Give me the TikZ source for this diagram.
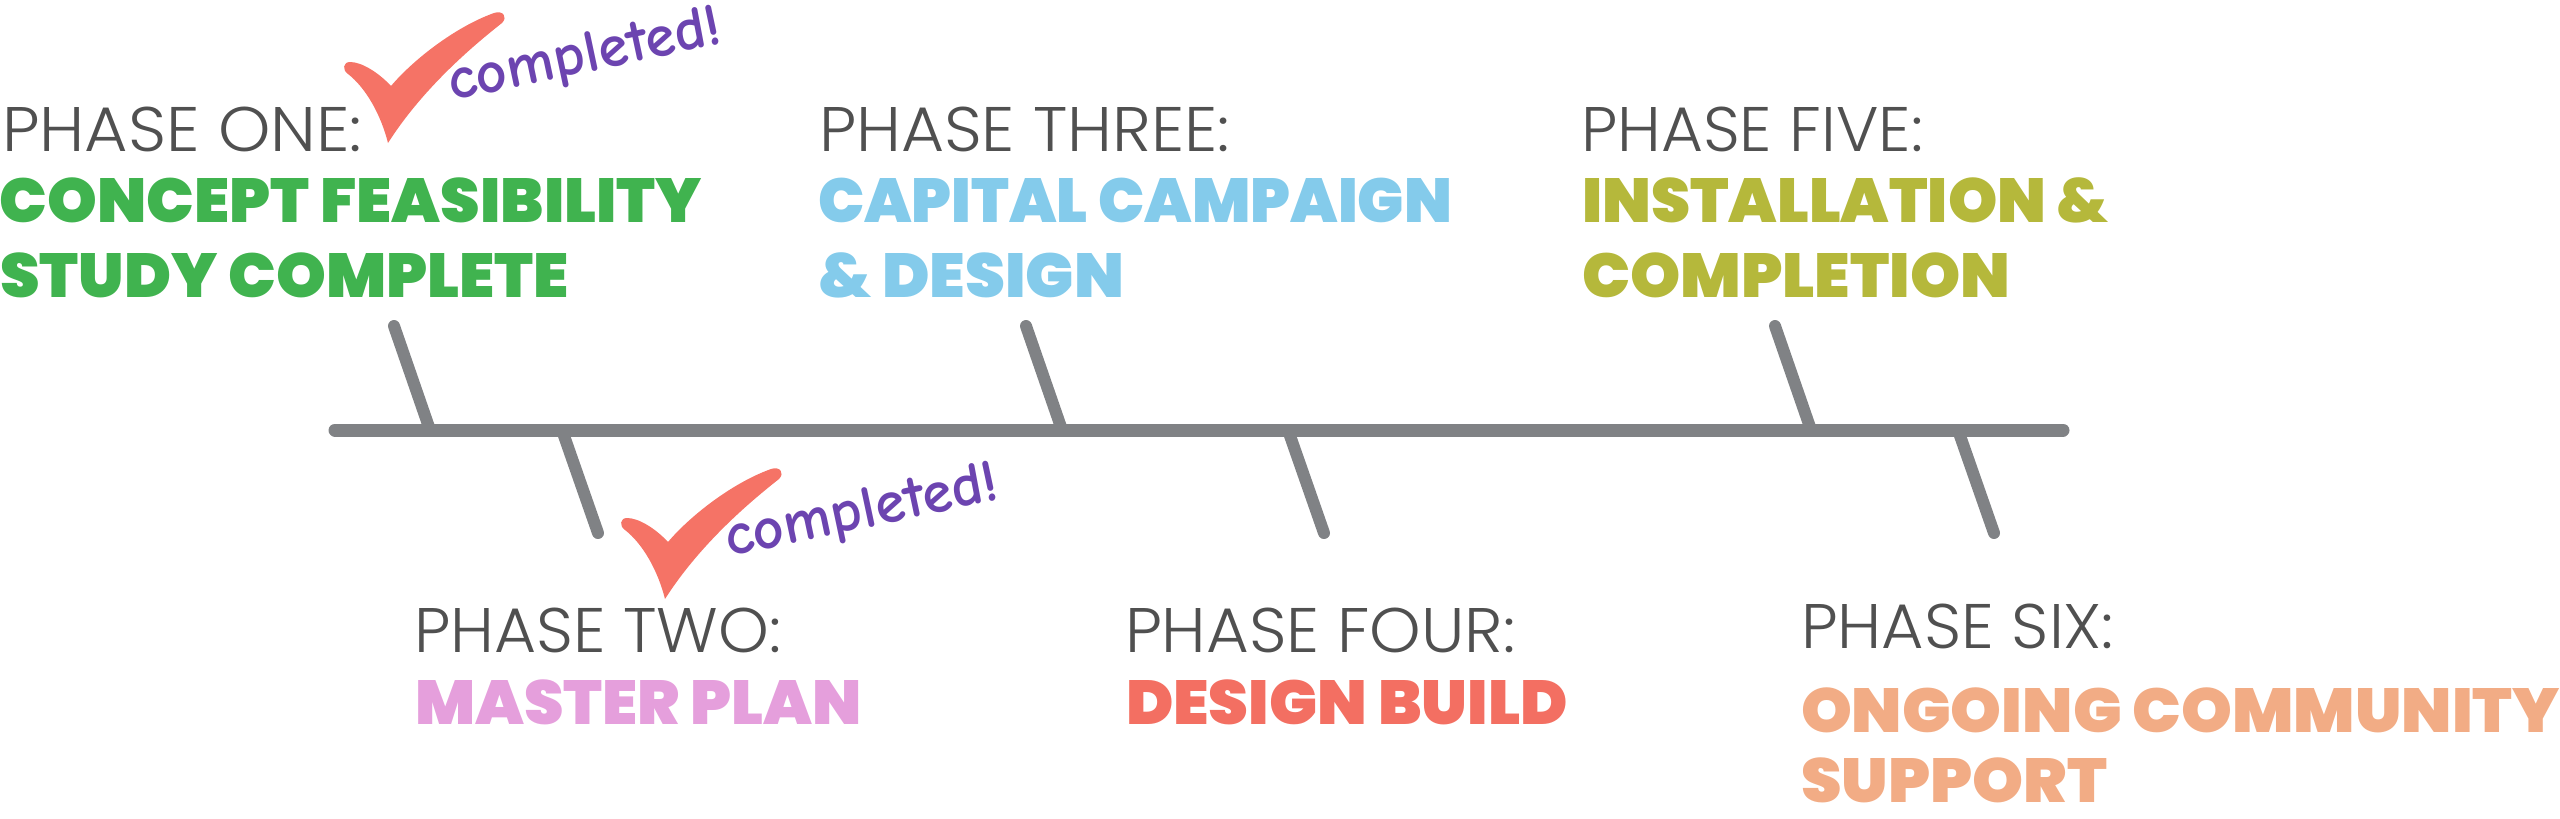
\documentclass[tikz,border=0pt]{standalone}
\usepackage{fontspec}
\usepackage{graphicx}
\newfontfamily\lightfam{Poppins Light}
\newfontfamily\boldfam{Poppins Black}
\IfFontExistsTF{Comic Neue Bold}
  {\newfontfamily\handfam{Comic Neue Bold}}
  {\IfFontExistsTF{Nunito-Black.otf}
    {\newfontfamily\handfam{Nunito-Black.otf}}
    {\IfFontExistsTF{Nunito-ExtraBold.otf}
      {\newfontfamily\handfam{Nunito-ExtraBold.otf}[FakeBold=1.5]}
      {\IfFontExistsTF{Comfortaa-Bold.ttf}
        {\newfontfamily\handfam{Comfortaa-Bold.ttf}[FakeBold=2]}
        {\newfontfamily\handfam{Poppins SemiBold}}}}}
\definecolor{phgray}{HTML}{505050}
\definecolor{linegray}{HTML}{808285}
\definecolor{cgreen}{HTML}{40B34F}
\definecolor{cblue}{HTML}{84CBEB}
\definecolor{colive}{HTML}{B5B83B}
\definecolor{cpink}{HTML}{E59FDC}
\definecolor{ccoral}{HTML}{F36F62}
\definecolor{cpeach}{HTML}{F2AC85}
\definecolor{checkred}{HTML}{F57366}
\definecolor{donepurple}{HTML}{6C44B0}
\newlength\tw
\newcommand\LT{\fontsize{60}{60}\selectfont\lightfam}
\newcommand\BT{\fontsize{60}{60}\selectfont\boldfam}
\newcommand\fitL[2]{\settowidth\tw{\LT #2}\pgfmathsetmacro\myfx{#1/\tw}\scalebox{\myfx}[\lsy]{\LT #2}}
\newcommand\natL[1]{\scalebox{\lsx}[\lsy]{\LT #1}}
\newcommand\fitB[2]{\settowidth\tw{\BT #2}\pgfmathsetmacro\myfx{#1/\tw}\scalebox{\myfx}[\bsy]{\BT #2}}
\newcommand\natB[1]{\scalebox{\bsx}[\bsy]{\BT #1}}
\AtBeginDocument{%
\settoheight\tw{\LT H}\pgfmathsetmacro\lsy{44/\tw}%
\settoheight\tw{\BT H}\pgfmathsetmacro\bsy{44/\tw}%
\settowidth\tw{\LT PHASE ONE:PHASE THREE:PHASE TWO:PHASE SIX:}\pgfmathsetmacro\lsx{1451/\tw}%
\settowidth\tw{\BT CONCEPT FEASIBILITYSTUDY COMPLETE\&{} DESIGNMASTER PLANONGOING COMMUNITYSUPPORT}\pgfmathsetmacro\bsx{3089/\tw}%
}
\begin{document}
\begin{tikzpicture}[x=1pt,y=-1pt,
  lbl/.style={anchor=base west, inner sep=0pt, outer sep=0pt},
  ph/.style={lbl, text=phgray},
  bar/.style={draw=linegray, line width=13pt, line cap=round},
  tickline/.style={draw=linegray, line width=12pt, line cap=round},
  chk/.style={fill=checkred, draw=none},
  done/.style={anchor=base west, inner sep=0pt, text=donepurple, rotate=12}]

\useasboundingbox (0,0) rectangle (2560,819);

% timeline
\coordinate (L) at (335,430);
\coordinate (R) at (2063,430);
\coordinate (k1a) at (430,430);  \coordinate (k1b) at (394,326);
\coordinate (k2a) at (562,430);  \coordinate (k2b) at (598,533);
\coordinate (k3a) at (1062,430); \coordinate (k3b) at (1026,326);
\coordinate (k4a) at (1288,430); \coordinate (k4b) at (1324,533);
\coordinate (k5a) at (1811,430); \coordinate (k5b) at (1775,326);
\coordinate (k6a) at (1958,430); \coordinate (k6b) at (1994,533);
\draw[tickline] (k1a) -- (k1b);
\draw[tickline] (k2a) -- (k2b);
\draw[tickline] (k3a) -- (k3b);
\draw[tickline] (k4a) -- (k4b);
\draw[tickline] (k5a) -- (k5b);
\draw[tickline] (k6a) -- (k6b);
\draw[bar] (L) -- (R);

% top labels
\node[ph] (p1) at (2,151) {\fitL{360}{PHASE ONE:}};
\node[lbl,text=cgreen] (t1a) at (0,222) {\fitB{702}{CONCEPT FEASIBILITY}};
\node[lbl,text=cgreen] (t1b) at (0,297) {\fitB{569}{STUDY COMPLETE}};
\node[ph] (p3) at (819,151) {\fitL{411}{PHASE THREE:}};
\node[lbl,text=cblue] (t3a) at (818,222) {\fitB{634}{CAPITAL CAMPAIGN}};
\node[lbl,text=cblue] (t3b) at (818,297) {\fitB{306}{\&{} DESIGN}};
\node[ph] (p5) at (1581,151) {\fitL{342}{PHASE FIVE:}};
\node[lbl,text=colive] (t5a) at (1582,222) {\fitB{527}{INSTALLATION \&}};
\node[lbl,text=colive] (t5b) at (1582,297) {\natB{COMPLETION}};

% bottom labels
\node[ph] (p2) at (414,652) {\fitL{367}{PHASE TWO:}};
\node[lbl,text=cpink] (t2) at (415,724) {\fitB{447}{MASTER PLAN}};
\node[ph] (p4) at (1125,652) {\natL{PHASE FOUR:}};
\node[lbl,text=ccoral] (t4) at (1126,724) {\natB{DESIGN BUILD}};
\node[ph] (p6) at (1801,648) {\fitL{313}{PHASE SIX:}};
\node[lbl,text=cpeach] (t6a) at (1801,732) {\fitB{759}{ONGOING COMMUNITY}};
\node[lbl,text=cpeach] (t6b) at (1801,802) {\raisebox{0pt}[\height][0pt]{\fitB{306}{SUPPORT}}};

% check marks
\foreach \dx/\dy/\nm in {0/0/c1, 277/456/c2}{
  \begin{scope}[shift={(\dx,\dy)}]
    \path[chk] (350,62) .. controls (362,62) and (379,73) .. (391,86)
      .. controls (413,60) and (455,27) .. (494,13)
      .. controls (503,10) and (508,17) .. (502,23)
      .. controls (478,42) and (425,85) .. (388,143)
      .. controls (381,115) and (366,88) .. (348,74)
      .. controls (342,70) and (343,62) .. (350,62) -- cycle;
    \node[done] (\nm) at (452,101) {\resizebox{278pt}{!}{\handfam completed!}};
  \end{scope}
}
\end{tikzpicture}
\end{document}
